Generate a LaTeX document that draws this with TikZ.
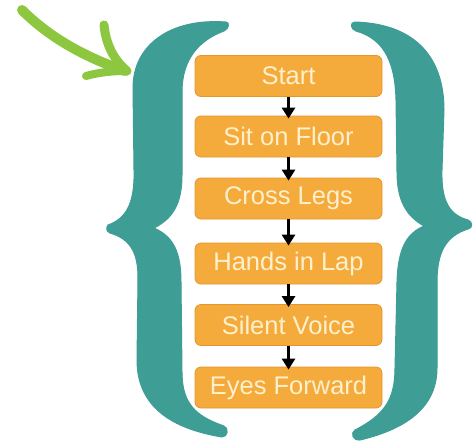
\documentclass[tikz,border=0pt]{standalone}
\usepackage{fontspec}
\setmainfont{Liberation Sans}
\usetikzlibrary{arrows.meta}
\definecolor{teal1}{RGB}{62,158,149}
\definecolor{boxor}{RGB}{245,170,60}
\definecolor{boxedge}{RGB}{228,150,45}
\definecolor{cream}{RGB}{253,241,205}
\definecolor{lime}{RGB}{141,198,63}
\tikzset{
  stepbox/.style={rectangle, rounded corners=6pt, fill=boxor, draw=boxedge, line width=0.8pt,
    minimum width=187pt, minimum height=41pt, inner sep=0pt,
    text=cream, font=\fontsize{25.5}{30}\selectfont},
  flow/.style={draw=black, line width=3.5pt, -{Triangle[length=11pt,width=13pt]}},
  bracefill/.style={fill=teal1, draw=teal1, line width=1pt, line join=round},
  greenline/.style={draw=lime, line cap=round, line join=round}
}
\begin{document}
\begin{tikzpicture}[x=1pt,y=-1pt]
\useasboundingbox (0,0) rectangle (474,442);
\fill[white] (0,0) rectangle (474,442);

% left brace
\path[bracefill] (226,22) .. controls (170,18) and (133,45) .. (133,88)
  -- (134,170) .. controls (135,205) and (125,219) .. (108,225)
  .. controls (106,228) and (106,231) .. (110,233)
  .. controls (130,239) and (138,252) .. (138,278)
  -- (137,360) .. controls (137,412) and (180,430) .. (222,437)
  .. controls (228,437) and (229,428) .. (224,426)
  .. controls (195,416) and (182,403) .. (182,372)
  -- (181,282) .. controls (181,250) and (172,236) .. (154,228)
  .. controls (174,218) and (182,202) .. (182,175)
  -- (182,92) .. controls (182,58) and (200,40) .. (224,31)
  .. controls (229,29) and (230,22) .. (226,22) -- cycle;

% right brace
\path[bracefill] (355,22) .. controls (418,24) and (444,60) .. (444,110)
  -- (442,170) .. controls (441,202) and (450,215) .. (468,220)
  .. controls (473,222) and (473,228) .. (468,229)
  .. controls (446,236) and (437,252) .. (437,282)
  -- (437,368) .. controls (437,410) and (402,430) .. (360,440)
  .. controls (353,441) and (350,433) .. (355,430)
  .. controls (384,415) and (395,400) .. (395,368)
  -- (397,282) .. controls (398,246) and (408,233) .. (424,226)
  .. controls (406,216) and (397,200) .. (397,172)
  -- (396,100) .. controls (395,56) and (380,38) .. (356,31)
  .. controls (350,29) and (350,22) .. (355,22) -- cycle;

% green arrow
\path[greenline, line width=10pt] (22,10) .. controls (50,38) and (85,57) .. (125,71);
\path[greenline, line width=9pt] (104,25) .. controls (106,45) and (114,60) .. (127,71);
\path[greenline, line width=8pt] (86,76) .. controls (100,72) and (114,71) .. (127,71);

% boxes
\node[stepbox] (s1) at (288.5,76) {Start};
\node[stepbox] (s2) at (288.5,136.5) {Sit on Floor};
\node[stepbox] (s3) at (288.5,198.5) {Cross Legs};
\node[stepbox] (s4) at (288.5,263.5) {Hands in Lap};
\node[stepbox] (s5) at (288.5,325) {Silent Voice};
\node[stepbox] (s6) at (288.5,387.5) {Eyes Forward};

\draw[flow] (s1.south) -- ([yshift=-3pt]s2.north);
\draw[flow] (s2.south) -- ([yshift=-3pt]s3.north);
\draw[flow] (s3.south) -- ([yshift=-3pt]s4.north);
\draw[flow] (s4.south) -- ([yshift=-3pt]s5.north);
\draw[flow] (s5.south) -- ([yshift=-3pt]s6.north);
\end{tikzpicture}
\end{document}
